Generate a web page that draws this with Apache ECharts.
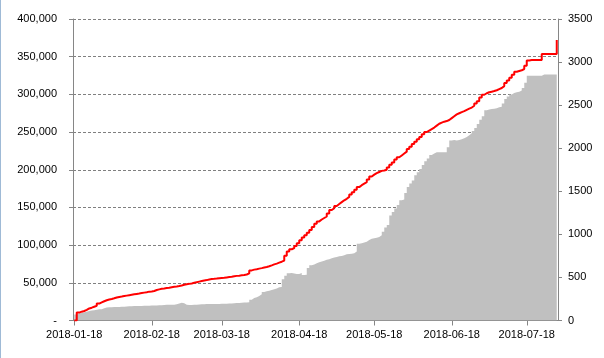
<!DOCTYPE html>
<html>
<head>
<meta charset="utf-8">
<script src="https://cdn.jsdelivr.net/npm/echarts@6/dist/echarts.min.js"></script>
<style>
html,body{margin:0;padding:0;background:#fff;}
#c{width:604px;height:358px;}
</style>
</head>
<body>
<div id="c"></div>
<script>
// Categories: daily dates from 2018-01-18 to 2018-07-30
const startDate = '2018-01-18';
const dayCount = 194;
const dates = [];
(function(){
  const d0 = new Date(Date.UTC(2018, 0, 18));
  for (let i = 0; i < dayCount; i++) {
    const d = new Date(d0.getTime() + i * 86400000);
    dates.push(d.toISOString().slice(0, 10));
  }
})();

// Red line (left axis)
const redValues = [
0,10500,11700,12600,14000,16000,17000,18300,19500,22500,
24000,25500,26800,27800,28600,29500,30500,31300,31800,32400,
33000,33600,34200,34800,35300,35800,36400,37000,37600,38300,
38600,39200,40500,41300,42000,42400,43000,43500,44200,44700,
45200,45800,46500,47500,48200,48600,49200,50000,50800,51600,
52400,53000,53600,54400,55000,55300,55700,56200,56500,56800,
57200,57600,58000,58600,59200,59500,59900,60300,61000,62500,
66500,67500,68000,68800,69500,70300,71000,72000,73200,74500,
75500,76800,78000,79500,86000,91500,94500,96000,99000,102500,
106500,110000,113000,116500,120000,124000,128500,131500,134000,136000,
138000,142000,146500,149000,152000,154500,157000,159500,161500,164000,
167000,170000,173500,177000,179500,181500,183500,187000,191000,193500,
195500,197000,198500,199000,200000,203000,206500,209500,213500,216500,
219000,221500,224000,227500,230500,234000,237000,240500,243500,247000,
250000,252000,254000,256000,258500,261000,262500,263800,264600,266000,
268500,271000,273500,275000,276500,277800,279500,281000,282500,285000,
288000,291000,296000,299500,301500,302800,303600,304400,305500,307000,
308500,311000,315000,318500,322000,326000,330000,331000,332000,333500,
338000,345000,345500,345500,345500,345500,345500,353500,353500,353500,
353500,353500,353500,372000
];

// Gray area (right axis)
const grayValues = [
70,84,86,95,102,110,115,120,126,130,
132,142,150,153,155,156,157,158,159,160,
162,164,166,167,168,168,169,170,171,172,
173,174,175,176,178,180,182,183,183,184,
190,198,205,200,182,180,181,182,184,186,
188,190,191,192,192,192,192,192,193,194,
195,196,198,200,202,204,206,208,210,212,
240,262,270,285,305,330,340,345,354,362,
372,385,388,480,520,548,550,545,540,540,
552,528,530,610,640,650,665,675,685,695,
705,712,722,730,738,745,750,758,768,772,
776,782,800,890,898,905,915,935,948,955,
962,970,990,1030,1080,1110,1220,1260,1300,1340,
1395,1405,1480,1550,1590,1625,1685,1720,1760,1805,
1850,1880,1920,1940,1953,1953,1953,1953,1953,2010,
2090,2095,2090,2095,2105,2115,2130,2150,2173,2200,
2235,2280,2330,2370,2440,2450,2455,2458,2465,2475,
2482,2520,2570,2600,2625,2640,2650,2656,2670,2700,
2760,2842,2840,2840,2840,2840,2840,2856,2856,2856,
2856,2856,2856,2856
];

const leftTicks = { min: 0, max: 400000, interval: 50000 };
const rightTicks = { min: 0, max: 3500, interval: 500 };

const axisColor = '#868686';
const font = 'Liberation Sans';
const isLabelDay = (idx, val) => String(val).slice(8) === '18';

const chart = echarts.init(document.getElementById('c'), null, { renderer: 'canvas' });
chart.setOption({
  animation: false,
  backgroundColor: '#fff',
  grid: { left: 73, right: 46, top: 19, bottom: 37.5, containLabel: false },
  graphic: [{
    type: 'rect', left: 0, top: 0,
    shape: { x: 0, y: 0, width: 1, height: 358 },
    style: { fill: '#9fbad6' }
  }],
  xAxis: {
    type: 'category',
    data: dates,
    boundaryGap: true,
    axisLine: { lineStyle: { color: axisColor, width: 1 } },
    axisTick: { show: true, interval: isLabelDay, alignWithLabel: true, length: 5, lineStyle: { color: axisColor } },
    axisLabel: { interval: isLabelDay, margin: 9, color: '#000', fontFamily: font, fontSize: 11 },
    splitLine: { show: false }
  },
  yAxis: [{
    type: 'value',
    min: leftTicks.min, max: leftTicks.max, interval: leftTicks.interval,
    axisLine: { show: true, lineStyle: { color: axisColor } },
    axisTick: { show: true, length: 4, lineStyle: { color: axisColor } },
    axisLabel: {
      margin: 16, color: '#000', fontFamily: font, fontSize: 11,
      formatter: v => v === 0 ? '-' : v.toLocaleString('en-US')
    },
    splitLine: { show: true, lineStyle: { color: '#808080', type: [3, 2], width: 1 } }
  }, {
    type: 'value',
    position: 'right',
    min: rightTicks.min, max: rightTicks.max, interval: rightTicks.interval,
    axisLine: { show: true, lineStyle: { color: axisColor } },
    axisTick: { show: true, length: 4, lineStyle: { color: axisColor } },
    axisLabel: { margin: 10, color: '#000', fontFamily: font, fontSize: 11, formatter: v => String(v) },
    splitLine: { show: false }
  }],
  series: [{
    type: 'line',
    yAxisIndex: 1,
    data: grayValues,
    step: 'end',
    symbol: 'none',
    lineStyle: { width: 0, color: '#C0C0C0' },
    areaStyle: { color: '#C0C0C0', opacity: 1 },
    z: 2
  }, {
    type: 'line',
    yAxisIndex: 0,
    data: redValues,
    step: 'end',
    symbol: 'none',
    lineStyle: { width: 2, color: '#FF0000' },
    z: 3
  }]
});
</script>
</body>
</html>
